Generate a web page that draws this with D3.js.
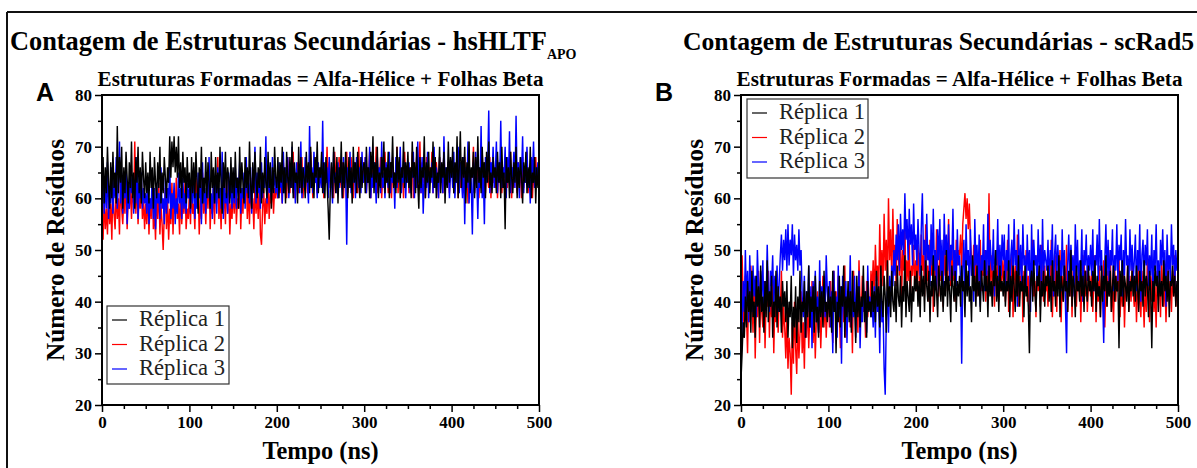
<!DOCTYPE html>
<html><head><meta charset="utf-8">
<script src="https://cdn.jsdelivr.net/npm/d3@7"></script>
<style>body{margin:0;background:#fff} svg{display:block}</style>
</head><body>
<svg id="c" width="1197" height="468"></svg>
<script>
// ---------------- DATA ----------------
const panelTitles = ["Contagem de Estruturas Secundárias - hsHLTF", "Contagem de Estruturas Secundárias - scRad5"];
const panelSubs = ["APO", ""];
const panelLetters = ["A", "B"];
const subtitle = "Estruturas Formadas = Alfa-Hélice + Folhas Beta";
const seriesNames = ["Réplica 1", "Réplica 2", "Réplica 3"];
const seriesColors = ["#000000", "#ff0000", "#0000ff"];
const xTicks = [0, 100, 200, 300, 400, 500];
const yTicks = [20, 30, 40, 50, 60, 70, 80];
const xLabel = "Tempo (ns)";
const yLabel = "Número de Resíduos";

// Panel A (hsHLTF APO), sampled every 1.25 ns from 0 to 500 ns
const A_rep1 = [
 62,68,59,66,61,70,63,58,67,60,69,62,65,59,74,61,68,63,70,58,66,61,69,64,59,67,62,71,60,65,58,68,63,70,61,66,59,69,64,60,
 67,61,65,59,69,62,66,58,68,63,60,67,62,70,59,65,61,68,64,60,66,63,72,64,71,66,72,65,70,64,72,62,67,60,69,63,66,59,68,62,
 65,58,68,61,67,60,69,63,57,66,62,70,59,64,61,68,60,67,63,58,69,62,66,59,68,61,65,60,70,63,57,67,62,69,60,66,64,59,68,61,
 66,60,69,62,64,58,70,61,67,63,59,68,62,66,60,71,63,58,67,61,69,64,60,66,62,70,59,65,61,68,63,60,69,62,67,58,66,61,70,64,
 62,68,60,67,63,70,61,66,59,69,64,61,68,62,71,60,67,63,65,59,70,62,68,61,66,64,60,69,63,67,61,70,62,65,60,68,64,71,61,66,
 64,69,61,67,60,68,63,58,52,62,67,60,70,64,61,68,59,66,63,71,60,67,62,69,64,60,68,62,66,59,70,63,67,61,69,64,60,68,62,66,
 67,61,70,63,66,60,69,64,72,61,67,63,70,60,65,62,68,64,71,61,66,63,69,60,67,64,72,62,65,61,70,63,68,60,66,64,71,62,67,63,
 69,62,66,60,71,64,67,61,70,63,58,68,62,66,64,72,60,67,63,69,61,66,64,71,62,68,60,65,63,70,61,67,64,69,59,66,62,71,63,68,
 64,70,61,67,63,72,60,66,73,62,68,64,70,59,67,63,71,61,66,64,69,60,68,62,72,63,66,61,70,64,67,60,69,63,71,62,65,61,68,64,
 66,61,69,63,67,60,70,62,65,54,68,63,66,60,69,64,61,67,63,70,60,66,62,68,64,59,67,63,69,61,66,62,70,60,65,63,68,59,66,62,64];
const A_rep2 = [
 56,52,60,54,58,53,61,55,59,52,63,57,54,62,56,60,53,64,58,55,61,57,66,54,60,58,63,56,62,59,71,57,64,55,61,58,63,56,60,54,
 59,55,62,53,60,56,64,54,58,52,61,56,63,53,59,55,50,57,62,54,60,52,58,55,63,53,61,57,64,56,59,53,62,55,60,57,63,54,58,56,
 61,55,63,57,59,54,64,58,62,53,60,56,65,57,61,55,63,58,66,54,60,57,62,55,64,59,68,56,61,54,63,58,60,55,65,57,62,53,59,56,
 62,57,64,55,60,58,65,54,61,57,63,59,66,56,62,55,64,58,60,54,63,57,61,56,65,53,51,58,62,55,60,57,64,56,61,59,63,57,62,60,
 63,60,66,61,64,59,67,62,65,60,68,63,61,66,62,69,60,65,63,67,61,64,62,68,60,66,63,65,61,67,62,69,64,60,66,63,68,61,65,63,
 66,62,68,60,65,63,70,61,67,64,62,66,60,69,63,65,61,68,64,62,67,60,66,63,69,61,65,62,68,64,60,67,63,66,61,70,62,65,64,67,
 63,68,61,66,64,69,60,67,62,65,63,70,61,66,64,68,60,65,62,69,63,66,61,67,64,60,68,62,65,63,70,61,67,64,62,66,60,69,63,65,
 67,61,66,63,69,60,65,64,68,62,66,71,61,67,63,65,60,68,64,62,66,63,69,61,65,62,67,64,60,68,63,66,61,70,62,65,64,67,61,66,
 64,68,61,66,63,69,60,65,62,67,64,61,68,63,66,59,67,62,65,64,70,61,66,63,68,60,65,62,69,63,66,61,67,64,62,68,60,65,63,66,
 62,67,60,65,63,68,61,66,64,59,67,62,65,63,69,60,66,62,68,64,61,67,63,65,60,68,62,66,63,69,61,65,64,67,60,66,62,68,63,65,64];
const A_rep3 = [
 60,65,57,63,58,67,56,62,59,66,57,64,60,68,58,63,71,59,65,57,62,60,67,55,63,58,66,61,64,57,62,59,68,56,63,60,65,58,62,59,
 61,57,64,55,60,58,65,56,62,54,63,59,61,56,66,58,60,55,64,57,62,59,67,56,61,58,63,55,60,57,65,59,62,56,64,58,61,57,63,60,
 62,57,64,59,66,56,61,58,65,60,63,55,67,59,62,57,64,60,68,58,61,56,65,59,63,57,66,60,62,58,69,56,64,59,61,57,65,60,63,58,
 63,59,66,58,64,61,67,57,62,60,65,58,68,61,63,59,66,57,64,62,70,59,65,61,63,58,67,60,64,62,72,59,66,61,63,60,68,62,65,61,
 64,60,67,62,65,59,69,61,66,63,68,60,64,62,70,61,66,59,67,63,65,61,71,60,66,62,68,64,63,59,74,62,66,61,69,63,65,60,67,62,
 65,62,75,61,67,63,66,60,68,62,64,59,69,63,65,61,67,62,66,64,60,68,63,65,51,66,62,69,61,65,63,67,60,68,64,62,66,61,69,63,
 64,68,61,66,63,70,60,65,62,67,64,59,68,63,66,61,71,62,65,60,67,64,62,69,61,66,63,65,58,68,62,66,64,70,61,65,63,67,60,66,
 63,67,61,65,64,69,60,66,62,71,63,65,61,68,57,64,66,62,69,60,65,63,67,61,70,62,66,64,60,68,63,65,61,72,62,66,64,67,60,65,
 66,62,69,60,65,63,70,61,67,64,60,68,55,66,62,71,59,65,63,53,67,61,69,64,56,66,62,74,60,65,55,68,63,66,77,61,67,64,70,62,
 65,71,61,67,63,75,62,66,64,70,60,68,63,73,61,66,64,69,62,76,63,67,60,68,64,72,61,66,63,70,62,65,59,68,64,71,62,66,63,67,64];

// Panel B (scRad5 APO), sampled every 1.25 ns from 0 to 500 ns
const B_rep1 = [
 25,30,36,33,41,35,44,38,42,34,46,37,40,33,45,39,43,35,47,38,41,34,44,37,48,36,42,39,45,33,40,37,46,35,43,38,41,34,44,39,
 42,36,44,33,40,37,45,31,39,35,43,32,41,36,46,34,40,38,44,33,42,37,47,35,41,38,43,34,45,36,39,33,44,37,42,35,46,38,40,36,
 43,37,41,34,46,38,42,30,40,36,45,35,43,39,47,33,41,37,44,36,42,34,46,38,40,32,45,37,43,35,41,39,47,36,42,33,44,38,40,37,
 44,38,42,36,46,39,43,35,47,40,37,45,41,34,48,39,43,37,46,40,38,44,36,47,41,39,45,35,43,40,49,37,44,41,38,46,36,43,40,45,
 42,46,39,44,37,47,41,45,38,48,43,40,46,36,44,41,49,39,45,42,37,47,43,40,46,38,44,41,50,39,45,42,36,47,43,40,46,38,44,41,
 45,39,47,42,44,37,48,41,46,40,43,36,49,42,45,39,47,41,44,38,46,43,40,48,42,45,37,47,41,44,39,46,43,50,40,45,38,47,42,44,
 41,46,39,44,42,48,37,45,40,47,43,38,46,41,49,39,44,42,45,37,47,41,43,39,30,44,46,40,48,42,38,45,43,47,36,44,41,46,39,45,
 43,47,40,45,38,48,42,44,39,46,41,49,37,45,43,40,47,42,44,38,46,41,50,39,45,43,37,47,42,44,40,48,41,45,38,46,43,40,47,42,
 44,39,46,42,48,38,45,41,43,37,47,40,45,42,49,39,44,41,46,38,43,47,40,45,42,44,31,46,41,48,39,45,43,40,47,38,44,42,46,41,
 45,40,47,43,38,46,42,44,39,48,41,45,43,37,46,42,31,44,40,47,43,45,38,46,41,44,39,48,42,45,40,46,37,44,43,47,41,45,39,44,42];
const B_rep2 = [
 36,49,40,33,45,38,30,43,36,47,41,34,44,29,40,37,46,32,42,38,35,44,31,41,39,46,33,42,37,45,30,40,36,44,34,41,38,46,33,39,
 35,29,38,27,33,30,22,36,28,40,31,26,37,29,34,42,30,36,27,39,33,41,31,38,35,44,32,39,29,37,42,34,40,31,38,45,35,41,33,39,
 41,35,44,37,32,46,39,42,34,45,38,31,43,40,36,47,33,41,38,44,35,42,30,46,39,37,43,34,48,40,36,45,38,42,33,44,37,41,39,46,
 42,48,40,51,44,47,41,55,45,50,43,57,46,52,42,60,48,54,44,58,47,51,43,56,49,45,53,41,50,46,55,43,48,44,52,40,47,45,51,43,
 48,42,51,45,39,53,46,49,41,55,44,47,40,52,45,50,38,48,43,54,46,41,50,44,47,39,53,45,49,42,56,46,43,51,44,48,40,52,47,50,
 49,53,46,55,58,61,56,60,54,59,52,48,45,51,43,49,41,47,44,52,42,48,45,50,40,46,43,61,44,49,41,47,39,46,43,51,40,45,42,48,
 44,49,40,46,52,38,45,42,50,37,44,47,41,53,39,45,43,48,36,46,42,50,40,45,38,47,43,52,41,44,37,49,42,46,39,51,44,40,47,42,
 45,39,48,42,52,37,44,41,49,38,46,43,50,36,45,40,47,42,51,38,44,41,48,37,46,43,50,39,45,42,47,36,44,40,49,41,46,38,43,45,
 41,46,38,44,49,36,43,40,47,37,45,42,48,35,44,39,46,41,50,38,43,36,47,40,45,42,49,37,44,39,46,35,43,41,48,38,45,40,47,42,
 39,45,36,43,48,40,37,46,42,35,44,38,49,41,36,45,40,47,38,43,35,46,41,44,37,48,42,39,45,36,43,47,40,44,38,46,41,49,39,43,41];
const B_rep3 = [
 28,35,44,38,50,40,46,36,49,42,38,47,41,45,37,50,43,39,46,41,48,37,44,40,51,42,38,46,43,49,39,45,41,47,38,44,49,53,46,52,
 48,54,46,55,47,52,49,55,45,53,48,51,46,54,47,50,41,37,45,33,42,38,47,35,43,31,44,39,46,36,41,34,48,38,43,40,45,37,49,42,
 39,44,35,42,30,46,38,41,33,47,37,43,28,45,40,36,44,32,42,38,49,35,41,37,45,33,43,39,46,31,40,36,44,38,42,34,47,39,41,37,
 40,35,43,33,45,38,41,30,44,36,39,27,22,37,42,34,45,40,47,43,50,45,53,48,55,46,57,50,54,49,61,52,56,48,58,51,55,47,59,50,
 53,47,56,50,45,54,61,49,52,44,57,48,51,43,55,47,58,46,50,42,54,48,56,45,52,41,57,49,53,46,55,44,51,48,58,45,50,43,54,47,
 49,44,28,46,52,41,55,47,50,43,54,45,48,40,56,47,51,44,53,39,49,46,55,42,50,45,57,43,52,48,46,54,41,50,47,56,44,51,45,53,
 48,53,43,50,46,55,41,49,52,44,56,47,50,39,54,45,51,43,55,47,49,42,53,46,50,38,55,44,52,47,49,43,54,46,51,41,56,45,50,48,
 46,52,43,50,47,55,41,49,53,44,51,46,48,42,54,45,50,39,30,47,53,44,51,46,49,41,55,45,52,43,48,46,54,40,50,47,53,44,49,46,
 51,45,54,42,49,47,53,44,56,46,50,41,32,48,55,45,52,43,50,47,54,42,49,46,55,44,51,48,53,41,50,45,56,47,49,43,54,46,51,44,
 48,53,42,50,46,55,40,49,52,44,51,47,54,43,49,45,53,41,50,46,55,44,48,42,52,47,54,45,50,39,53,46,49,44,55,47,51,43,50,46,48];

const panelSeries = [[A_rep1, A_rep2, A_rep3], [B_rep1, B_rep2, B_rep3]];
const tMax = 500;

// ---------------- LAYOUT ----------------
const svg = d3.select("#c");
const SERIF = "'Liberation Serif','Times New Roman',serif";
const SANS = "'Liberation Sans',Arial,sans-serif";

function fit(sel, w) {
  const cur = sel.node().getComputedTextLength();
  const fs = parseFloat(sel.attr("font-size"));
  sel.attr("font-size", (fs * w / cur).toFixed(2));
}

// outer frame
svg.append("line").attr("x1", 7).attr("x2", 1197).attr("y1", 12).attr("y2", 12)
  .attr("stroke", "#111").attr("stroke-width", 2);
svg.append("line").attr("x1", 7).attr("x2", 7).attr("y1", 12).attr("y2", 468)
  .attr("stroke", "#111").attr("stroke-width", 2);

const panels = [
  {left: 102, right: 539, top: 95, bottom: 405, titleX: 10, titleW: 537, letterX: 36, ylabX: 64,
   legend: {x: 107, y: 306, w: 122, h: 78}},
  {left: 741, right: 1178, top: 95, bottom: 405, titleX: 683, titleW: 511, letterX: 655, ylabX: 703,
   legend: {x: 747, y: 99, w: 121, h: 79}}
];

panels.forEach((p, pi) => {
  const g = svg.append("g");
  const x = d3.scaleLinear().domain([0, 500]).range([p.left, p.right]);
  const y = d3.scaleLinear().domain([20, 80]).range([p.bottom, p.top]);

  // title
  const tt = g.append("text").attr("x", p.titleX).attr("y", 50)
    .attr("font-family", SERIF).attr("font-weight", "bold").attr("font-size", 24)
    .attr("fill", "#000").text(panelTitles[pi]);
  fit(tt, p.titleW);
  if (panelSubs[pi]) tt.append("tspan").attr("dy", 9).attr("font-size", 14).text(panelSubs[pi]);

  // subtitle
  const st = g.append("text").attr("x", (p.left + p.right) / 2).attr("y", 86)
    .attr("text-anchor", "middle")
    .attr("font-family", SERIF).attr("font-weight", "bold").attr("font-size", 17)
    .attr("fill", "#000").text(subtitle);
  fit(st, 446);

  // panel letter
  g.append("text").attr("x", p.letterX).attr("y", 101)
    .attr("font-family", SANS).attr("font-weight", "bold").attr("font-size", 25)
    .attr("fill", "#000").text(panelLetters[pi]);

  // clip
  const cid = "clip" + pi;
  svg.append("clipPath").attr("id", cid).append("rect")
    .attr("x", p.left).attr("y", p.top).attr("width", p.right - p.left).attr("height", p.bottom - p.top);

  // series: red, blue, then black on top
  const order = [1, 2, 0];
  const lg = g.append("g").attr("clip-path", `url(#${cid})`);
  order.forEach(si => {
    const vals = panelSeries[pi][si];
    const n = vals.length;
    const line = d3.line().x((d, i) => x(i * tMax / (n - 1))).y(d => y(d));
    lg.append("path").datum(vals).attr("d", line)
      .attr("fill", "none").attr("stroke", seriesColors[si]).attr("stroke-width", 1.45)
      .attr("stroke-linejoin", "bevel");
  });

  // axes
  const fontAxis = (sel) => sel.selectAll("text")
    .attr("font-family", SERIF).attr("font-weight", "bold").attr("font-size", 17).attr("fill", "#000");
  const yAx = g.append("g").attr("transform", `translate(${p.left},0)`)
    .call(d3.axisLeft(y).tickValues(yTicks).tickSize(7).tickPadding(3).tickFormat(d3.format("d")));
  yAx.call(fontAxis);
  const yMin = g.append("g").attr("transform", `translate(${p.left},0)`)
    .call(d3.axisLeft(y).tickValues(yTicks.slice(0, -1).map(v => v + 5)).tickSize(4).tickFormat(""));
  const xAx = g.append("g").attr("transform", `translate(0,${p.bottom})`)
    .call(d3.axisBottom(x).tickValues(xTicks).tickSize(7).tickPadding(4).tickFormat(d3.format("d")));
  xAx.call(fontAxis);
  const xMinorVals = [];
  xTicks.slice(0, -1).forEach(v => { xMinorVals.push(v + 25, v + 50, v + 75); });
  const xMin = g.append("g").attr("transform", `translate(0,${p.bottom})`)
    .call(d3.axisBottom(x).tickValues(xMinorVals).tickSize(4).tickFormat(""));
  [yAx, yMin, xAx, xMin].forEach(a => {
    a.select(".domain").remove();
    a.selectAll("line").attr("stroke", "#000").attr("stroke-width", 1.5);
  });

  // frame
  g.append("rect").attr("x", p.left).attr("y", p.top)
    .attr("width", p.right - p.left).attr("height", p.bottom - p.top)
    .attr("fill", "none").attr("stroke", "#000").attr("stroke-width", 2);

  // axis labels
  const xl = g.append("text").attr("x", (p.left + p.right) / 2).attr("y", 459)
    .attr("text-anchor", "middle").attr("font-family", SERIF).attr("font-weight", "bold")
    .attr("font-size", 22).attr("fill", "#000").text(xLabel);
  fit(xl, 116);
  const yl = g.append("text").attr("transform", `translate(${p.ylabX},250) rotate(-90)`)
    .attr("text-anchor", "middle").attr("font-family", SERIF).attr("font-weight", "bold")
    .attr("font-size", 22).attr("fill", "#000").text(yLabel);
  fit(yl, 222);

  // legend
  const L = p.legend;
  const leg = g.append("g");
  leg.append("rect").attr("x", L.x).attr("y", L.y).attr("width", L.w).attr("height", L.h)
    .attr("fill", "#fff").attr("stroke", "#333").attr("stroke-width", 1.2);
  seriesNames.forEach((nm, i) => {
    const cy = L.y + 14 + i * 24.5;
    leg.append("line").attr("x1", L.x + 5).attr("x2", L.x + 20).attr("y1", cy).attr("y2", cy)
      .attr("stroke", seriesColors[i]).attr("stroke-width", 1.2);
    const t = leg.append("text").attr("x", L.x + 32).attr("y", cy + 6)
      .attr("font-family", SERIF).attr("font-size", 19).attr("fill", "#222").text(nm);
    fit(t, 86);
  });
});
</script></body></html>
